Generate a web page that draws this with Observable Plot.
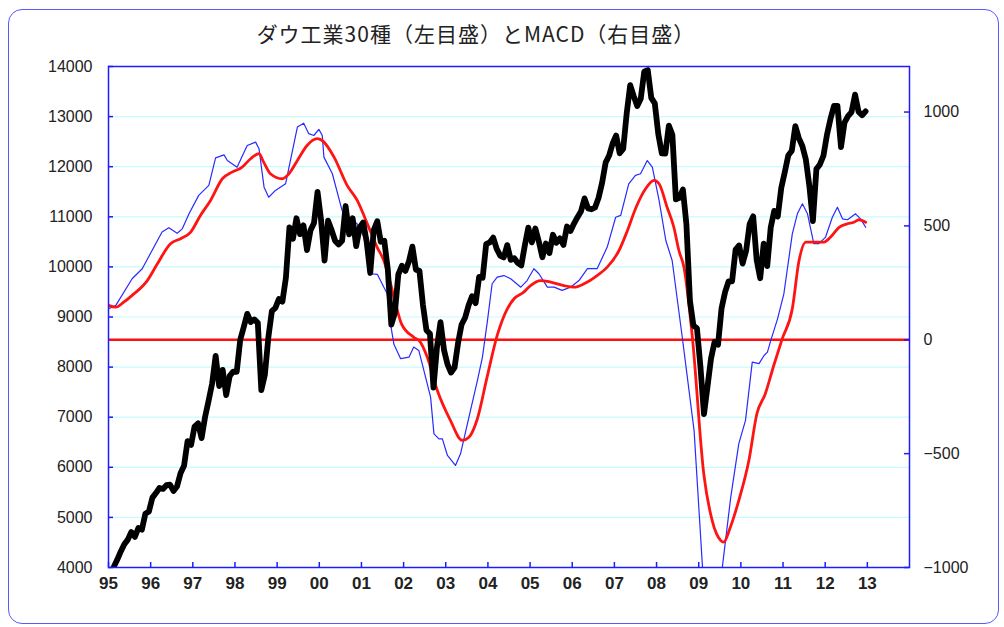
<!DOCTYPE html>
<html>
<head>
<meta charset="utf-8">
<script src="https://cdn.jsdelivr.net/npm/d3@7"></script>
<script src="https://cdn.jsdelivr.net/npm/@observablehq/plot@0.6"></script>
<style>
  html, body { margin: 0; padding: 0; background: #fff; }
  #wrap { position: relative; width: 1004px; height: 627px; overflow: hidden; }
  #border { position: absolute; left: 8px; top: 9px; width: 991px; height: 615px;
            border: 1.5px solid #5a5aff; border-radius: 14px; box-sizing: border-box; }
  #title { position: absolute; left: 0; top: 23px; width: 952px; text-align: center;
           font-family: "Noto Sans CJK JP", sans-serif; font-size: 21px; line-height: 1; color: #222;
           letter-spacing: 1px; }
  #chart { position: absolute; left: 0; top: 50px; }
</style>
</head>
<body>
<div id="wrap">
  <div id="border"></div>
  <div id="title">ダウ工業30種（左目盛）とMACD（右目盛）</div>
  <div id="chart"></div>
</div>
<script>
// ---- data ----
const dowStartYear = 1995;
const dowClose = [
  3843,4011,4158,4321,4465,4556,4708,4611,4789,4755,5074,5117,
  5395,5486,5587,5569,5643,5655,5529,5616,5882,6029,6522,6448,
  6813,6878,6583,7009,7331,7673,8223,7622,7945,7442,7823,7908,
  7907,8546,8800,9063,8900,8952,8883,7539,7843,8592,9117,9181,
  9359,9307,9786,10789,10560,10971,10655,10829,10337,10730,10878,11497,
  10941,10128,10922,10734,10522,10448,10522,11215,10651,10971,10414,10788,
  10887,10495,9879,10735,10912,10502,10523,9950,8848,9075,9852,10022,
  9920,10106,10404,9946,9925,9243,8737,8664,7592,8397,8896,8342,
  8054,7891,7992,8480,8850,8985,9234,9416,9275,9801,9782,10454,
  10488,10584,10358,10226,10188,10435,10140,10174,10080,10027,10428,10783,
  10490,10766,10504,10193,10467,10275,10641,10482,10569,10440,10806,10718,
  10865,10993,11109,11367,11168,11150,11186,11381,11679,12081,12222,12463,
  12622,12269,12354,13063,13628,13409,13212,13358,13896,13930,13372,13265,
  12650,12266,12263,12820,12638,11350,11378,11544,10851,9325,8829,8776,
  8001,7063,7609,8168,8500,8447,9172,9496,9712,9713,10345,10428,
  10067,10325,10857,11009,10137,9774,10466,10015,10788,11118,11006,11578,
  11892,12226,12320,12811,12570,12414,12143,11614,10913,11955,12046,12218,
  12633,12952,13212,13214,12393,12880,13009,13091,13437,13096,13026,13104
];

const macdYears = [
  1995.00,1995.17,1995.56,1995.80,1996.27,1996.43,1996.63,1996.75,1996.91,1997.14,
  1997.38,1997.54,1997.74,1997.82,1998.05,1998.29,1998.49,1998.57,1998.69,1998.80,
  1998.96,1999.20,1999.48,1999.63,1999.75,1999.87,1999.99,2000.07,2000.11,2000.31,
  2000.54,2000.66,2000.90,2001.14,2001.22,2001.38,2001.61,2001.69,2001.77,2001.93,
  2002.13,2002.24,2002.36,2002.44,2002.64,2002.72,2002.84,2002.92,2003.04,2003.23,
  2003.35,2003.55,2003.75,2003.87,2003.99,2004.10,2004.22,2004.38,2004.54,2004.78,
  2004.93,2005.09,2005.21,2005.41,2005.57,2005.76,2005.96,2006.16,2006.36,2006.59,
  2006.83,2007.03,2007.15,2007.34,2007.50,2007.62,2007.78,2007.90,2008.06,2008.22,
  2008.37,2008.61,2008.89,2009.09,2009.26,2009.56,2009.76,2009.95,2010.11,2010.27,
  2010.43,2010.55,2010.63,2010.71,2010.87,2011.02,2011.22,2011.34,2011.46,2011.58,
  2011.73,2011.85,2012.01,2012.17,2012.29,2012.41,2012.53,2012.72,2012.84,2012.96
];
const macdValues = [
  136,150,268,312,473,492,468,487,553,634,
  678,799,812,787,758,853,868,839,670,626,
  656,685,934,951,905,897,924,897,802,729,
  568,546,509,422,290,287,202,70,-20,-83,
  -76,-32,-47,-105,-252,-413,-435,-435,-508,-552,
  -501,-340,-179,-76,85,246,275,282,268,231,
  260,312,290,231,231,217,231,260,312,312,
  407,538,546,685,722,729,787,758,612,436,
  348,11,-398,-999,-1400,-999,-691,-457,-354,-98,
  -105,-69,-54,-3,92,202,465,553,597,553,
  422,422,451,538,582,531,527,553,531,494
];

const signalYears = [
  1995.00,1995.17,1995.36,1995.56,1995.92,1996.16,1996.47,1996.71,1996.95,1997.18,
  1997.42,1997.70,1997.93,1998.17,1998.37,1998.57,1998.68,1998.84,1999.12,1999.28,
  1999.48,1999.71,1999.95,2000.07,2000.35,2000.66,2000.90,2001.14,2001.37,2001.53,
  2001.70,2001.85,2001.95,2002.24,2002.40,2002.56,2002.80,2003.11,2003.39,2003.55,
  2003.75,2003.98,2004.22,2004.46,2004.62,2004.85,2005.01,2005.25,2005.49,2005.80,
  2006.04,2006.28,2006.59,2006.83,2007.11,2007.31,2007.50,2007.74,2007.94,2008.06,
  2008.25,2008.41,2008.53,2008.65,2008.85,2009.12,2009.32,2009.52,2009.59,2009.75,
  2009.95,2010.19,2010.38,2010.58,2010.78,2010.98,2011.22,2011.38,2011.54,2011.73,
  2011.97,2012.13,2012.33,2012.52,2012.68,2012.80,2012.96
];
const signalValues = [
  151,143,165,195,260,334,422,444,473,546,
  612,707,736,758,795,817,780,729,707,729,
  787,853,883,875,802,678,612,509,407,348,
  240,130,70,11,-11,-76,-223,-354,-442,-428,
  -347,-164,19,136,180,209,238,260,253,238,
  231,246,282,319,392,480,575,663,700,685,
  582,494,392,319,11,-589,-794,-881,-889,-823,
  -706,-530,-325,-237,-113,4,136,348,429,429,
  429,451,494,509,516,527,516
];

const yearTicks = d3.range(1995, 2014);
const leftTicks = d3.range(4000, 14001, 1000);
const gridTicks = d3.range(5000, 14000, 1000);
const rightTicks = [-1000, -500, 0, 500, 1000];

// ---- dual-axis mapping: MACD (right) -> left scale ----
const L0 = 4000, L1 = 14000, R0 = -1000, R1 = 1200;
const toLeft = v => L0 + (v - R0) * (L1 - L0) / (R1 - R0);
const fromLeft = y => R0 + (y - L0) * (R1 - R0) / (L1 - L0);

const dow = dowClose.map((v, i) => ({t: dowStartYear + (i + 0.5) / 12, v}));
const macd = macdYears.map((t, i) => ({t, v: macdValues[i]}));
const signal = signalYears.map((t, i) => ({t, v: signalValues[i]}));

const W = 1004, H = 577, mL = 108, mR = 95, mT = 16, mB = 60;
const pw = W - mL - mR, ph = H - mT - mB;
const frameBlue = "#1c1cff";

const chart = Plot.plot({
  width: W, height: H,
  marginLeft: mL, marginRight: mR, marginTop: mT, marginBottom: mB,
  style: {background: "transparent", fontFamily: "'Liberation Sans', Arial, sans-serif", color: "#222"},
  x: {type: "linear", domain: [1995, 2014]},
  y: {type: "linear", domain: [L0, L1]},
  marks: [
    Plot.ruleY(gridTicks, {y: d => d, stroke: "#c4fbff", strokeWidth: 1.2}),
    Plot.ruleY([0], {y: d => toLeft(d), stroke: "#ff1010", strokeWidth: 2.6}),
    Plot.line(macd, {x: "t", y: d => toLeft(d.v), stroke: "#2a2aff", strokeWidth: 1.2, clip: true}),
    Plot.line(signal, {x: "t", y: d => toLeft(d.v), stroke: "#ff1414", strokeWidth: 2.8, curve: "monotone-x", clip: true}),
    Plot.line(dow, {x: "t", y: "v", stroke: "#000", strokeWidth: 5.8, strokeLinejoin: "round", clip: true}),
    Plot.frame({stroke: frameBlue, strokeWidth: 1.5}),
    Plot.ruleY(leftTicks, {y: d => d, stroke: frameBlue, strokeWidth: 1.5, insetRight: pw - 5}),
    Plot.ruleY(rightTicks, {y: d => toLeft(d), stroke: frameBlue, strokeWidth: 1.5, insetLeft: pw - 5}),
    Plot.ruleX(yearTicks, {x: d => d, stroke: frameBlue, strokeWidth: 1.5, insetTop: ph - 5}),
    Plot.axisY({anchor: "left", ticks: leftTicks, tickSize: 0, tickPadding: 16, fontSize: 16, label: null, tickFormat: d => String(d)}),
    Plot.axisY({anchor: "right", ticks: rightTicks.map(toLeft), tickSize: 0, tickPadding: 14, fontSize: 16, label: null,
                tickFormat: d => { const r = Math.round(fromLeft(d)); return r < 0 ? "\u2212" + Math.abs(r) : String(r); }}),
    Plot.axisX({anchor: "bottom", ticks: yearTicks, tickSize: 0, tickPadding: 9, fontSize: 17, fontWeight: "bold", label: null,
                fontFamily: "'Liberation Sans Narrow', 'Liberation Sans', sans-serif",
                tickFormat: d => String(d % 100).padStart(2, "0")})
  ]
});
document.getElementById("chart").appendChild(chart);
</script>
</body>
</html>
